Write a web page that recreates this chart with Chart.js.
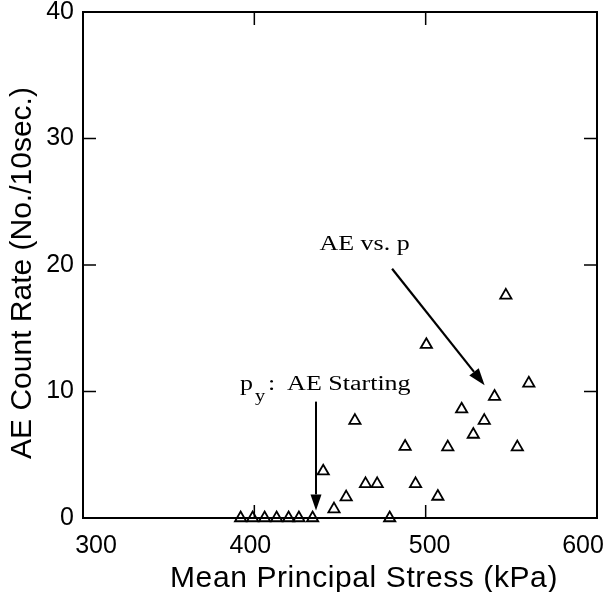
<!DOCTYPE html>
<html>
<head>
<meta charset="utf-8">
<script src="https://cdn.jsdelivr.net/npm/chart.js@4.4.1/dist/chart.umd.min.js"></script>
<style>
  html, body { margin: 0; padding: 0; background: #fff; }
  #c { display: block; }
</style>
</head>
<body>
<canvas id="c" width="613" height="592"></canvas>
<script>
// Mean principal stress p (kPa) and AE count rate (counts per 10 s)
const stressKPa = [392, 399, 406, 413, 420, 426, 434,
                   440.2, 446.5, 453.6, 458.7, 464.9, 471.7, 479,
                   488, 494.1, 500.4, 507.1, 512.9, 521, 527.8,
                   534.2, 540.2, 546.8, 553.5, 560.2];
const countRate = [0, 0, 0, 0, 0, 0, 0,
                   3.7, 0.7, 1.65, 7.7, 2.7, 2.7, 0,
                   5.65, 2.7, 13.7, 1.7, 5.6, 8.6, 6.6,
                   7.7, 9.6, 17.6, 5.6, 10.65];

const xTickValues = [300, 400, 500, 600];
const yTickValues = [0, 10, 20, 30, 40];

const xTitle = 'Mean Principal Stress (kPa)';
const yTitle = 'AE Count Rate (No./10sec.)';

// annotation text and arrow end points, in data units (kPa, count rate)
const trendLabel = 'AE vs. p';
const trendLabelAt = [438, 21.2];
const trendArrow = [[480.4, 19.7], [534.4, 10.5]];

const onsetSymbol = 'p';
const onsetSubscript = 'y';
const onsetLabel = 'AE Starting';
const onsetLabelAt = [391.7, 10.1];
const onsetArrow = [[436, 9.2], [436, 0.6]];

const SANS = '"Liberation Sans", Arial, Helvetica, sans-serif';
const SERIF = '"Liberation Serif", "Times New Roman", Times, serif';

function drawArrow(ctx, x0, y0, x1, y1, headLen, headW, lw) {
  const ang = Math.atan2(y1 - y0, x1 - x0);
  const bx = x1 - Math.cos(ang) * headLen;
  const by = y1 - Math.sin(ang) * headLen;
  ctx.lineWidth = lw;
  ctx.beginPath();
  ctx.moveTo(x0, y0);
  ctx.lineTo(bx, by);
  ctx.stroke();
  const nx = -Math.sin(ang) * headW / 2, ny = Math.cos(ang) * headW / 2;
  ctx.beginPath();
  ctx.moveTo(x1, y1);
  ctx.lineTo(bx + nx, by + ny);
  ctx.lineTo(bx - nx, by - ny);
  ctx.closePath();
  ctx.fill();
}

// serif note text, drawn a little wide
function wideText(ctx, str, x, y, size, stretch) {
  ctx.save();
  ctx.translate(x, y);
  ctx.scale(stretch, 1);
  ctx.font = size + 'px ' + SERIF;
  ctx.textAlign = 'left';
  ctx.textBaseline = 'alphabetic';
  ctx.fillText(str, 0, 0);
  ctx.restore();
}

const framePlugin = {
  id: 'frameAndNotes',
  afterDraw(chart) {
    const { ctx, chartArea: a, scales: { x, y } } = chart;
    ctx.save();
    ctx.strokeStyle = '#000';
    ctx.fillStyle = '#000';

    // plot frame
    ctx.lineWidth = 2;
    ctx.strokeRect(a.left, a.top, a.right - a.left, a.bottom - a.top);

    // inward tick marks on all four sides
    ctx.lineWidth = 1.5;
    const tick = 13;
    ctx.beginPath();
    xTickValues.slice(1, -1).forEach(v => {
      const px = x.getPixelForValue(v);
      ctx.moveTo(px, a.bottom); ctx.lineTo(px, a.bottom - tick);
      ctx.moveTo(px, a.top); ctx.lineTo(px, a.top + tick);
    });
    yTickValues.slice(1, -1).forEach(v => {
      const py = y.getPixelForValue(v);
      ctx.moveTo(a.left, py); ctx.lineTo(a.left + tick, py);
      ctx.moveTo(a.right, py); ctx.lineTo(a.right - tick, py);
    });
    ctx.stroke();

    // x tick labels (end labels pulled in toward the plot)
    const xLabelShift = [13, -4, 4, -14];
    ctx.font = '25px ' + SANS;
    ctx.textAlign = 'center';
    ctx.textBaseline = 'alphabetic';
    xTickValues.forEach((v, i) => {
      ctx.fillText(String(v), x.getPixelForValue(v) + xLabelShift[i], a.bottom + 35);
    });

    // x axis title
    ctx.font = '30px ' + SANS;
    if ('letterSpacing' in ctx) ctx.letterSpacing = '0.6px';
    ctx.fillText(xTitle, (a.left + a.right) / 2 + 24, a.bottom + 69);
    if ('letterSpacing' in ctx) ctx.letterSpacing = '0px';

    // y axis title, rotated
    ctx.save();
    ctx.translate(a.left - 60, (a.top + a.bottom) / 2 + 8);
    ctx.rotate(-Math.PI / 2);
    ctx.font = '30px ' + SANS;
    ctx.textAlign = 'center';
    ctx.textBaseline = 'middle';
    ctx.fillText(yTitle, 0, 0);
    ctx.restore();

    // trend note and arrow
    drawArrow(ctx,
      x.getPixelForValue(trendArrow[0][0]), y.getPixelForValue(trendArrow[0][1]),
      x.getPixelForValue(trendArrow[1][0]), y.getPixelForValue(trendArrow[1][1]),
      17, 12, 2.2);
    wideText(ctx, trendLabel,
      x.getPixelForValue(trendLabelAt[0]), y.getPixelForValue(trendLabelAt[1]), 20, 1.3);

    // onset note p_y and arrow
    drawArrow(ctx,
      x.getPixelForValue(onsetArrow[0][0]), y.getPixelForValue(onsetArrow[0][1]),
      x.getPixelForValue(onsetArrow[1][0]), y.getPixelForValue(onsetArrow[1][1]),
      16, 11, 2);
    const ox = x.getPixelForValue(onsetLabelAt[0]);
    const oy = y.getPixelForValue(onsetLabelAt[1]);
    wideText(ctx, onsetSymbol, ox, oy, 20, 1.3);
    wideText(ctx, onsetSubscript, ox + 15, oy + 11, 17, 1.2);
    wideText(ctx, ':', ox + 28, oy, 20, 1.3);
    wideText(ctx, onsetLabel, ox + 47, oy, 20, 1.3);

    ctx.restore();
  }
};

new Chart(document.getElementById('c'), {
  type: 'scatter',
  data: {
    datasets: [{
      data: stressKPa.map((p, i) => ({ x: p, y: countRate[i] })),
      pointStyle: 'triangle',
      pointRadius: 6.5,
      pointHoverRadius: 6.5,
      pointBorderWidth: 1.8,
      borderColor: '#000',
      backgroundColor: 'rgba(0,0,0,0)',
      showLine: false,
      clip: false
    }]
  },
  options: {
    responsive: false,
    animation: false,
    devicePixelRatio: 1,
    layout: { padding: { top: 12, right: 16, left: 0, bottom: 0 } },
    plugins: { legend: { display: false }, tooltip: { enabled: false } },
    events: [],
    scales: {
      x: {
        type: 'linear',
        min: 300, max: 600,
        afterBuildTicks: s => { s.ticks = xTickValues.map(v => ({ value: v })); },
        grid: { display: false, drawTicks: false },
        border: { display: false },
        ticks: { display: false },
        afterFit: s => { s.height = 74; s.paddingLeft = 0; s.paddingRight = 0; }
      },
      y: {
        type: 'linear',
        min: 0, max: 40,
        afterBuildTicks: s => { s.ticks = yTickValues.map(v => ({ value: v })); },
        grid: { display: false, drawTicks: false },
        border: { display: false },
        ticks: {
          color: '#000',
          padding: 9,
          font: { family: SANS, size: 25 }
        },
        afterFit: s => { s.width = 83; s.paddingTop = 0; s.paddingBottom = 0; }
      }
    }
  },
  plugins: [framePlugin]
});
</script>
</body>
</html>
